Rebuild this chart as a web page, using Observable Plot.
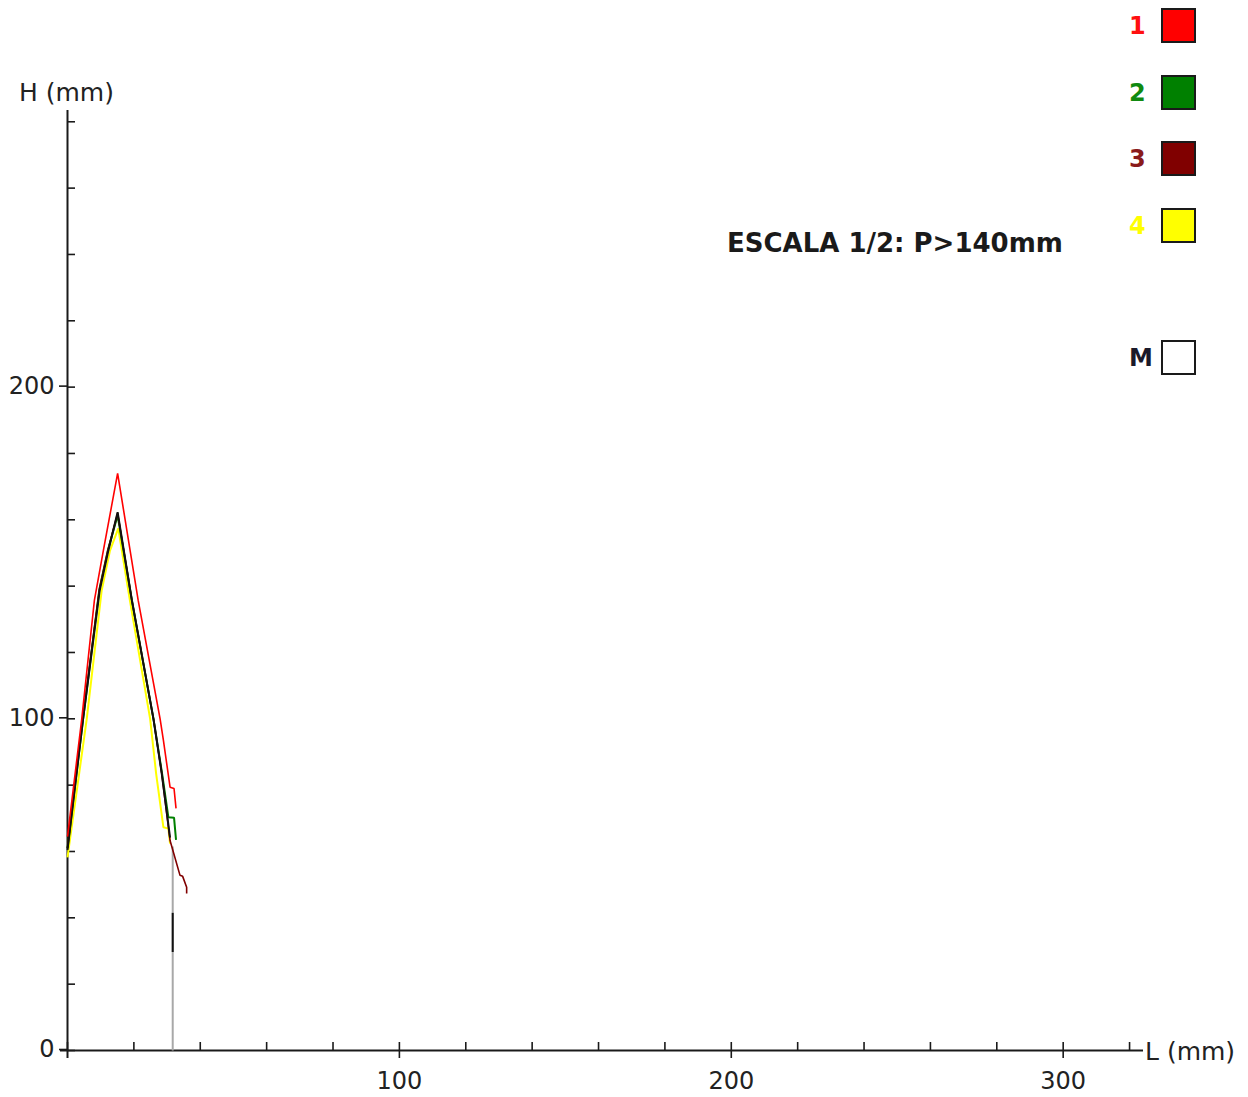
<!DOCTYPE html>
<html><head><meta charset="utf-8">
<script src="https://cdn.jsdelivr.net/npm/d3@7"></script>
<script src="https://cdn.jsdelivr.net/npm/@observablehq/plot@0.6"></script>
<style>
body{margin:0;background:#fff;}
#wrap{position:relative;width:1248px;height:1097px;font-family:"DejaVu Sans",Verdana,sans-serif;color:#222;overflow:hidden}
#wrap svg{position:absolute;left:0;top:0}
.ov{position:absolute;white-space:nowrap;line-height:1;}
.sw{position:absolute;width:31px;height:31px;border:2px solid #1a1a1a;box-sizing:content-box}
</style></head><body><div id="wrap"></div>
<script>
// ---- data (L mm, H mm) ----
const serie1 = [[0,64.5],[4.3,100],[8.1,135.7],[10.8,150.7],[15.1,174.0],[21.3,135.7],[27.9,100],[28.9,93.5],[30.9,79.4],[32.1,79.0],[32.7,73.0]];
const serie2 = [[0,61],[4.7,100],[9.6,139],[12.2,151],[15.1,161.3],[19.4,135.7],[25.9,100],[28.5,83.5],[30.4,70.3],[32.1,70.2],[32.7,63.5]];
const serie3 = [[0,61],[4.6,100],[9.6,139],[12.2,151],[15.1,162],[19.4,135.7],[25.9,100],[28.4,83.5],[30.9,63.3],[33.9,52.8],[34.7,52.5],[35.9,49.2],[35.9,47.3]];
const serie4 = [[0,58.2],[5.8,100],[10.3,138.7],[12.8,150.7],[15.3,157.4],[18.8,135.7],[24.9,100],[26.7,83.5],[28.9,67.3],[30.4,66.9],[30.9,62.4]];
const serieM = [[0,60.5],[4.7,100],[9.7,138.7],[12.3,150.7],[15.1,162.3],[19.4,135.7],[25.9,100],[28.4,83.5],[30.9,64.2]];
const corteGris = [[31.7,61.5],[31.7,0]];
const corteNegro = [[31.7,41.5],[31.7,29.7]];

const xMajor = [100,200,300];
const xMinor = d3.range(0, 321, 20);
const yMajor = [0,100,200];
const yMinor = d3.range(0, 281, 20);

const legendLabels = ["1","2","3","4","M"];
const legendFills = ["#ff0000","#008000","#800000","#ffff00","#ffffff"];
const legendText = ["#ff1010","#108a10","#8a1a1a","#ffff00","#1a1a2a"];
const escala = "ESCALA 1/2: P>140mm";

// ---- chart ----
const lineOpts = {x: d => d[0], y: d => d[1], strokeLinejoin: "miter", strokeLinecap: "butt"};
const chart = Plot.plot({
  width: 1248, height: 1097,
  marginLeft: 67, marginRight: 105, marginTop: 110, marginBottom: 47,
  x: {domain: [0, 324.2], axis: null},
  y: {domain: [0, 283.4], axis: null},
  style: {fontFamily: "DejaVu Sans, Verdana, sans-serif", color: "#222", background: "#fff"},
  marks: [
    Plot.ruleX([0], {stroke: "#1a1a1a", strokeWidth: 2, insetBottom: -8}),
    Plot.ruleY([0], {stroke: "#1a1a1a", strokeWidth: 2, insetLeft: -7}),
    Plot.axisY({ticks: yMinor, tickSize: 8, dx: 8, text: null, stroke: "#1a1a1a", strokeWidth: 1.6}),
    Plot.axisY({ticks: yMajor, tickSize: 8, tickPadding: 5, fontSize: 24, dy: -1, stroke: "#1a1a1a", strokeWidth: 1.6, fill: "#222", tickFormat: d => String(d), label: null}),
    Plot.axisX({ticks: xMinor, tickSize: 8, dy: -8, text: null, stroke: "#1a1a1a", strokeWidth: 1.6}),
    Plot.axisX({ticks: xMajor, tickSize: 8, tickPadding: 13, fontSize: 24, stroke: "#1a1a1a", strokeWidth: 1.6, fill: "#222", tickFormat: d => String(d), label: null}),
    Plot.line(corteGris, {...lineOpts, stroke: "#a8a8a8", strokeWidth: 2}),
    Plot.line(corteNegro, {...lineOpts, stroke: "#111", strokeWidth: 2}),
    Plot.line(serie4, {...lineOpts, stroke: "#ffff00", strokeWidth: 2}),
    Plot.line(serie2, {...lineOpts, stroke: "#008000", strokeWidth: 2}),
    Plot.line(serie3, {...lineOpts, stroke: "#800000", strokeWidth: 1.6}),
    Plot.line(serieM, {...lineOpts, stroke: "#111", strokeWidth: 2}),
    Plot.line(serie1, {...lineOpts, stroke: "#ff0000", strokeWidth: 1.6})
  ]
});
const wrap = document.getElementById("wrap");
wrap.appendChild(chart);

function addText(txt, left, top, size, weight, color) {
  const d = document.createElement("div");
  d.className = "ov";
  d.textContent = txt;
  d.style.left = left + "px"; d.style.top = top + "px";
  d.style.fontSize = size + "px"; d.style.fontWeight = weight; d.style.color = color;
  wrap.appendChild(d);
  return d;
}
addText("H (mm)", 19, 80, 25, "normal", "#222");
addText("L (mm)", 1145, 1039, 25, "normal", "#222");
addText(escala, 727, 230, 26, "bold", "#1a1a1a");

const legendTops = [8, 75, 141, 208, 340];
legendLabels.forEach((lab, i) => {
  const t = legendTops[i];
  addText(lab, 1129, t + 6, 24, "bold", legendText[i]);
  const s = document.createElement("div");
  s.className = "sw";
  s.style.left = "1161px"; s.style.top = t + "px";
  s.style.background = legendFills[i];
  wrap.appendChild(s);
});
</script></body></html>
